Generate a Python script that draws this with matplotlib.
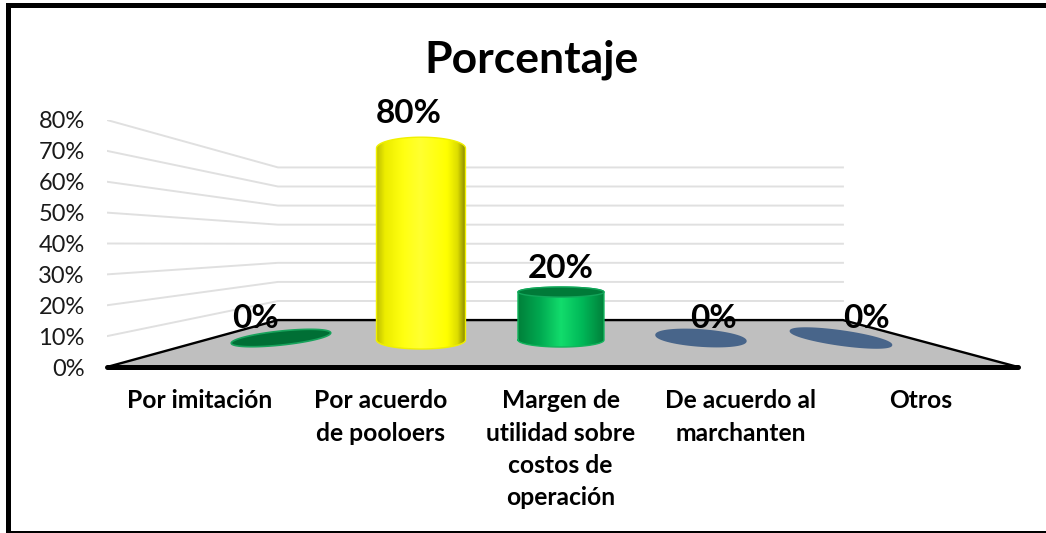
import numpy as np
import matplotlib
matplotlib.use("Agg")
import matplotlib.pyplot as plt
from matplotlib.colors import LinearSegmentedColormap
from matplotlib.patches import Polygon, Rectangle

categorias = ["Por imitación", "Por acuerdo\nde pooloers", "Margen de\nutilidad sobre\ncostos de\noperación",
              "De acuerdo al\nmarchanten", "Otros"]
valores = [0, 80, 20, 0, 0]
ticks = [0, 10, 20, 30, 40, 50, 60, 70, 80]

W, H = 1046, 533
PX_X = 180.3  # pixeles por categoria en el frente
PX_Y = 3.09  # pixeles por punto % en el frente

plt.rcParams["font.family"] = ["Lato", "DejaVu Sans"]
fig = plt.figure(figsize=(W / 100, H / 100), dpi=100)

# marco: izquierda y arriba gruesos, abajo fino, sin lado derecho
for x0, y0, ancho, alto in [(6, 3, 5, 530), (6, 3, 1040, 5), (6, 531, 1040, 2)]:
    fig.add_artist(Rectangle((x0 / W, 1 - (y0 + alto) / H), ancho / W, alto / H, transform=fig.transFigure,
                             fc="black", ec="none"))

ax = fig.add_axes([107 / W, 1 - 367 / H, 911 / W, 247 / H])
ax.set_xlim(-0.516, 4.537)
ax.set_ylim(0, 80)
ax.patch.set_alpha(0)
for s in ax.spines.values():
    s.set_visible(False)
ax.set_xticks(range(len(categorias)))
ax.set_xticklabels(categorias, fontsize=17.7, fontweight="bold", color="black", linespacing=1.49, va="top")
ax.set_yticks(ticks)
ax.set_yticklabels([f"{t}%" for t in ticks], fontsize=17, color="#1a1a1a")
ax.tick_params(axis="both", length=0)
ax.tick_params(axis="x", pad=16)
ax.tick_params(axis="y", pad=16)


def y_fondo(v):
    return 15.2 + v * 0.618


x_izq, x_der = -0.516, 4.537
xb_izq, xb_der = (278 - 107) / PX_X + x_izq, (843 - 107) / PX_X + x_izq

# lineas de la pared
for t in ticks[1:]:
    ax.plot([x_izq, xb_izq, xb_der], [t, y_fondo(t), y_fondo(t)], color="#e0e0e0", lw=1.4, zorder=1)

# piso
ax.add_patch(Polygon([(x_izq, 0), (xb_izq, y_fondo(0)), (xb_der, y_fondo(0)), (x_der, 0)],
                     fc="#bfbfbf", ec="none", zorder=2))
ax.plot([x_izq, xb_izq, xb_der, x_der], [0, y_fondo(0), y_fondo(0), 0], color="black", lw=1.7, zorder=2.1)
ax.plot([x_izq, x_der], [0, 0], color="black", lw=3.6, zorder=2.2, clip_on=False, solid_capstyle="round")

# cilindros y discos
centros = [281, 421, 561, 701, 841]
mitad = [50, 44.5, 43, 45, 51]
ry_base = [7, 9, 7, 8, 7]
ry_tapa = [7, 11, 5, 8, 7]
giro = [6, 0, 0, -4, -8]
colores = [("#006f35", "#18a35c"), None, None, ("#48658a", "#48658a"), ("#48658a", "#48658a")]
x_cero = {0: 255, 3: 713, 4: 866}
gradientes = {
    1: [(0, "#bcbc00"), (0.1, "#ecec00"), (0.3, "#ffff10"), (0.5, "#ffff30"), (0.8, "#ffff00"), (0.92, "#dcdc00"),
        (1, "#8f8f00")],
    2: [(0, "#00803a"), (0.25, "#00a850"), (0.5, "#12dc6c"), (0.75, "#00b858"), (1, "#00803a")],
}
Y_BASE = 340  # pixel y del centro de las bases
Y_DISCO = 338
K_ALTO = 2.40  # pixeles por punto % a la profundidad de las barras
theta = np.linspace(0, 2 * np.pi, 90)
y0_datos = (367 - Y_BASE) / PX_Y
y0_disco = (367 - Y_DISCO) / PX_Y

for i, v in enumerate(valores):
    xc = (centros[i] - 107) / PX_X + x_izq
    hw = mitad[i] / PX_X
    if v == 0:
        a = np.radians(giro[i])
        ex, ey = mitad[i] * np.cos(theta), ry_base[i] * np.sin(theta)
        dx = ex * np.cos(a) - ey * np.sin(a)
        dy = ex * np.sin(a) + ey * np.cos(a)
        fc, ec = colores[i]
        ax.add_patch(Polygon(np.column_stack([xc + dx / PX_X, y0_disco + dy / PX_Y]), fc=fc, ec=ec, lw=1.2, zorder=3))
        ax.text((x_cero[i] - 107) / PX_X + x_izq, y0_disco + 1.7, f"{v}%", ha="center", va="bottom", fontsize=24,
                fontweight="bold", color="black", zorder=6)
        continue
    ytop = y0_datos + v * K_ALTO / PX_Y
    rb, rt = ry_base[i] / PX_Y, ry_tapa[i] / PX_Y
    tb = np.linspace(np.pi, 2 * np.pi, 40)
    tt = np.linspace(0, np.pi, 40)
    xs = np.r_[xc + hw * np.cos(tb), xc + hw * np.cos(tt)]
    ys = np.r_[y0_datos + rb * np.sin(tb), ytop + rt * np.sin(tt)]
    cmap = LinearSegmentedColormap.from_list(f"c{i}", gradientes[i])
    im = ax.imshow(np.linspace(0, 1, 256)[None, :], cmap=cmap, aspect="auto", zorder=4,
                   extent=[xc - hw, xc + hw, y0_datos - rb, ytop + rt])
    im.set_clip_path(Polygon(np.column_stack([xs, ys]), transform=ax.transData))
    borde = "#f0f000" if i == 1 else "#12b45c"
    ax.plot(np.r_[xs, xs[0]], np.r_[ys, ys[0]], color=borde, lw=1, zorder=4.1)
    if i == 2:
        ax.add_patch(Polygon(np.column_stack([xc + hw * np.cos(theta), ytop + rt * np.sin(theta)]),
                             fc="#007a38", ec="#12a55a", lw=1, zorder=4.2))
    ax.text(xc - 0.07 if i == 1 else xc, ytop + rt + (3 if i == 1 else 1.4), f"{v}%", ha="center", va="bottom",
            fontsize=24, fontweight="bold", color="black", zorder=6, clip_on=False)

ax.set_xlim(x_izq, x_der)
ax.set_ylim(0, 80)

fig.text(532 / W, 1 - 60 / H, "Porcentaje", ha="center", va="center", fontsize=32, fontweight="bold", color="black")

fig.savefig("out.png", dpi=100)
